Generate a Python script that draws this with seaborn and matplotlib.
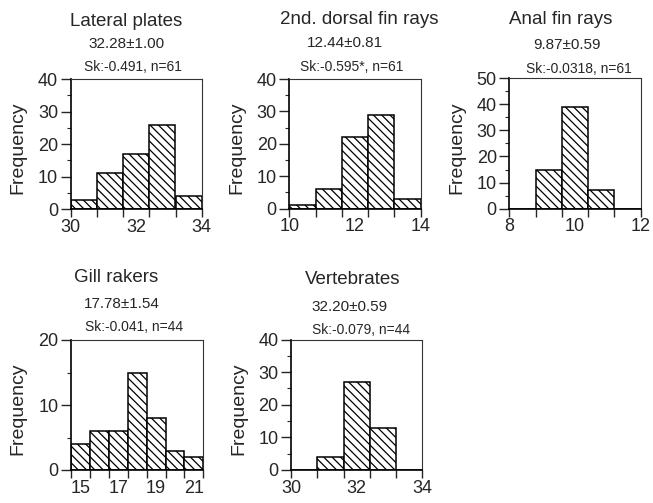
import numpy as np
import pandas as pd
import matplotlib
matplotlib.use("Agg")
import matplotlib.pyplot as plt
import seaborn as sns

sns.set_style("ticks")
plt.rcParams['font.family'] = ['Liberation Sans', 'DejaVu Sans']
plt.rcParams['hatch.linewidth'] = 0.9

# ---- data ----
titles = ["Lateral plates", "2nd. dorsal fin rays", "Anal fin rays", "Gill rakers", "Vertebrates"]
means = ["32.28\u00b11.00", "12.44\u00b10.81", "9.87\u00b10.59", "17.78\u00b11.54", "32.20\u00b10.59"]
skews = ["Sk:-0.491, n=61", "Sk:-0.595*, n=61", "Sk:-0.0318, n=61", "Sk:-0.041, n=44", "Sk:-0.079, n=44"]

lateral_counts = [3, 11, 17, 26, 4]
dorsal_counts = [1, 6, 22, 29, 3]
anal_counts = [0, 15, 39, 7, 0]
gill_counts = [4, 6, 6, 15, 8, 3, 2]
vert_counts = [0, 4, 27, 13, 0]
all_counts = [lateral_counts, dorsal_counts, anal_counts, gill_counts, vert_counts]

bin_ranges = [(30, 34), (10, 14), (8, 12), (14.5, 21.5), (30, 34)]
xtick_labels = [[30, 32, 34], [10, 12, 14], [8, 10, 12], [15, 17, 19, 21], [30, 32, 34]]
ymax = [40, 40, 50, 20, 40]

# ---- layout (pixels) ----
W, H = 653, 503
boxes = [(70.7, 79, 201.7, 209.3), (289.3, 79, 420.7, 208.5), (509.3, 78.5, 640.7, 208.5),
         (71, 340, 203.3, 470), (291, 339.5, 422.3, 470)]
title_pos = [(126, 21), (359, 19), (561, 19), (116, 277), (353, 280)]
mean_pos = [(127, 44), (345, 43), (567, 45), (122, 304), (350, 307)]
sk_pos = [(133, 67), (352, 67), (579, 69), (134, 327), (361, 330)]

fig = plt.figure(figsize=(W / 100, H / 100), dpi=100)

for i in range(5):
    l, t, r, b = boxes[i]
    ax = fig.add_axes([l / W, 1 - b / H, (r - l) / W, (b - t) / H])
    lo, hi = bin_ranges[i]
    counts = all_counts[i]
    edges = np.linspace(lo, hi, len(counts) + 1)
    centers = (edges[:-1] + edges[1:]) / 2
    df = pd.DataFrame({"value": centers, "count": counts})
    sns.histplot(data=df, x="value", weights="count", bins=list(edges), ax=ax,
                 color="white", edgecolor="black", linewidth=1.1, alpha=1.0)
    for p in ax.patches:
        p.set_hatch("\\\\\\\\")
        p.set_facecolor("white")
    ax.set_xlim(lo, hi)
    ax.set_ylim(0, ymax[i])
    ax.xaxis.remove_overlapping_locs = False
    ax.set_xticks(edges, labels=[""] * len(edges))
    ax.set_xticks(xtick_labels[i], labels=[str(v) for v in xtick_labels[i]], minor=True)
    ax.tick_params(axis="x", which="major", length=6, width=1.0, direction="out")
    ax.tick_params(axis="x", which="minor", length=0, pad=7, labelsize=13)
    ax.set_yticks(np.arange(0, ymax[i] + 1, 10))
    ax.set_yticks(np.arange(5, ymax[i], 10), minor=True)
    ax.tick_params(axis="y", which="major", length=7, width=1.0, pad=2, labelsize=13)
    ax.tick_params(axis="y", which="minor", length=3, width=0.8)
    ax.set_xlabel("")
    ax.set_ylabel("Frequency", fontsize=14)
    ax.yaxis.set_label_coords(-0.335, 0.47)
    for s in ["left", "bottom"]:
        ax.spines[s].set_linewidth(1.2)
        ax.spines[s].set_color("black")
    for s in ["top", "right"]:
        ax.spines[s].set_visible(True)
        ax.spines[s].set_linewidth(0.8)
        ax.spines[s].set_color("#333333")

    tx, ty = title_pos[i]
    fig.text(tx / W, 1 - ty / H, titles[i], ha="center", va="center", fontsize=13.5)
    mx, my = mean_pos[i]
    fig.text(mx / W, 1 - my / H, means[i], ha="center", va="center", fontsize=11)
    sx, sy = sk_pos[i]
    fig.text(sx / W, 1 - sy / H, skews[i], ha="center", va="center", fontsize=10)

fig.savefig("out.png", dpi=100)
